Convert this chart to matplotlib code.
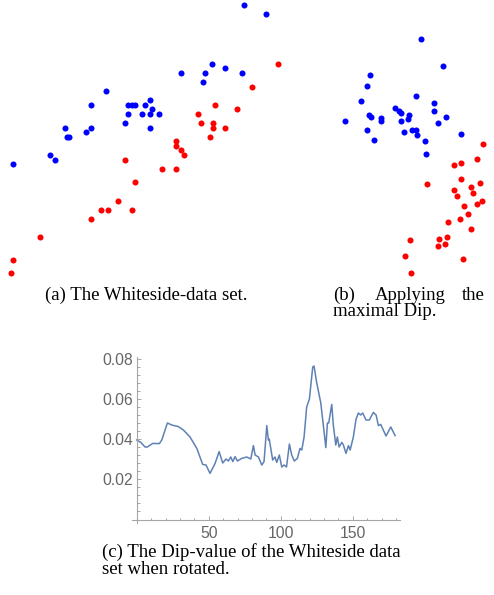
import matplotlib
matplotlib.use("Agg")
import matplotlib.pyplot as plt
from matplotlib.ticker import FixedLocator

# (a) Whiteside data, two groups (arbitrary picture units, y up)
a_blue_x = [244.3, 266, 212.3, 181.3, 205.3, 225, 241.7, 203, 105.7, 91.3, 127.7, 132.3, 134.7, 144.7, 149.7,
            152, 127.7, 142.3, 149.7, 159.3, 125, 64.7, 91.3, 149.7, 67, 69.3, 86.3, 50, 54.7, 13.3]
a_blue_y = [275, 266, 216, 207, 207, 211.7, 207, 197.7, 188.7, 175, 175, 175, 175, 175, 179.7,
            170.7, 166, 166, 166, 166, 157, 152.3, 152.3, 152.3, 143.3, 143.3, 148, 125, 120.3, 116]
a_red_x = [278.3, 251.7, 215, 237, 198.3, 200.7, 212.7, 212.7, 225, 210.3, 176.3, 176.3, 181.3, 183.7, 125,
           161.7, 176.3, 134.7, 118, 101, 108.3, 132.3, 91.3, 40.3, 13.3, 11]
a_red_y = [216, 193, 175, 170.7, 166, 157, 157, 152.3, 152.3, 143.3, 139, 134, 129.7, 125, 120.3,
           111.3, 111.3, 98, 79.3, 70.3, 70.3, 70.3, 61.3, 43, 20.3, 6.7]

# (b) same data after applying the maximal dip rotation
b_blue_x = [91, 113, 40, 37.3, 31.3, 85.7, 104, 104, 65, 68.7, 70.7, 78.7, 77.7, 38.7, 40.7,
            51.3, 50.7, 70.7, 115.7, 107.7, 15, 37, 43.7, 74.3, 81.7, 86.3, 87.3, 94.7, 131.3, 95.7]
b_blue_y = [241, 214.3, 204.7, 194.3, 179, 183.7, 177, 168.7, 172, 169, 167, 164.7, 161, 164.7, 162.7,
            162.3, 159, 159, 163, 157, 159.3, 149.7, 140, 147.7, 150, 150.3, 145.3, 139.3, 146, 126.3]
b_red_x = [153.3, 147, 123.7, 131, 97, 131, 150.3, 140.7, 124.3, 143, 127, 152.3, 147, 133.7, 138,
           130, 118.3, 141, 116.7, 109.3, 80.3, 115, 107.7, 74.7, 133.3, 81]
b_red_y = [136, 120.7, 115.3, 117.3, 96.3, 100.7, 97.3, 93.3, 90.3, 86.7, 84, 79, 75.7, 74.3, 66.3,
           60.7, 58, 51.3, 43, 40.7, 40, 36.3, 33.7, 24.3, 21.3, 6.7]

# (c) dip value vs rotation angle
angle = [0, 2.8, 5.8, 7.4, 11.1, 15.7, 17.4, 21.3, 24.3, 28.9, 32.4, 37, 41.7, 45.8, 48.1, 50.9, 54.4,
         57.2, 59.7, 62, 63.6, 65.3, 66.7, 68.3, 69.9, 72.9, 76.4, 79.2, 81, 82.2, 84.5, 86.8, 88.4,
         90.3, 91.4, 92, 94.4, 96, 97.2, 99, 100.7, 102.3, 104, 106, 107.6, 109.4, 111.5, 113.4, 114.6,
         116.2, 118, 119.9, 122.2, 123.1, 125, 127.8, 129.7, 131.3, 132.4, 133.3, 135.4, 136.5, 138.2,
         139.3, 140.5, 142.4, 143.5, 145.3, 147, 148.2, 150.4, 152.3, 153.9, 155.5, 156.9, 159.2,
         161.5, 164.3, 166.2, 167.8, 169.4, 173.1, 176.4, 179.4]
dip = [0.0395, 0.0383, 0.036, 0.036, 0.0378, 0.0377, 0.0395, 0.048, 0.047, 0.0462, 0.0445, 0.041, 0.0353,
       0.0273, 0.027, 0.0228, 0.0278, 0.0337, 0.028, 0.030, 0.029, 0.031, 0.0287, 0.0312, 0.029, 0.0303,
       0.031, 0.030, 0.0367, 0.032, 0.031, 0.027, 0.0287, 0.0467, 0.0395, 0.040, 0.0295, 0.031, 0.0283,
       0.032, 0.026, 0.027, 0.026, 0.0375, 0.032, 0.029, 0.0303, 0.0353, 0.0345, 0.041, 0.056, 0.060,
       0.076, 0.0765, 0.068, 0.058, 0.046, 0.0357, 0.048, 0.048, 0.0573, 0.047, 0.037, 0.041, 0.036,
       0.0383, 0.037, 0.0328, 0.0367, 0.0345, 0.041, 0.050, 0.053, 0.052, 0.053, 0.0495, 0.0495, 0.0533,
       0.052, 0.0467, 0.0473, 0.0415, 0.046, 0.0417]

W, H = 494, 595
fig = plt.figure(figsize=(W / 100, H / 100), dpi=100)

dot = 19
# panel (a)
ax_a = fig.add_axes([0, 1 - 280 / H, 300 / W, 280 / H])
ax_a.scatter(a_blue_x, a_blue_y, s=dot, color='#0000ff', linewidths=0, clip_on=False)
ax_a.scatter(a_red_x, a_red_y, s=dot, color='#ff0000', linewidths=0, clip_on=False)
ax_a.set_xlim(0, 300)
ax_a.set_ylim(0, 280)
ax_a.axis('off')

# panel (b)
ax_b = fig.add_axes([330 / W, 1 - 280 / H, 164 / W, 280 / H])
ax_b.scatter(b_blue_x, b_blue_y, s=dot, color='#0000ff', linewidths=0, clip_on=False)
ax_b.scatter(b_red_x, b_red_y, s=dot, color='#ff0000', linewidths=0, clip_on=False)
ax_b.set_xlim(0, 164)
ax_b.set_ylim(0, 280)
ax_b.axis('off')

# panel (c)
axis_col = '#a6a6a6'
lab_col = '#666666'
ax_c = fig.add_axes([131.7 / W, 1 - 523.3 / H, 268.3 / W, 166.3 / H])
ax_c.plot(angle, dip, color='#5e81b5', lw=1.1)
ax_c.set_xlim(-3.5, 182.8)
ax_c.set_ylim(-0.00215, 0.081)
for s in ['top', 'right']:
    ax_c.spines[s].set_visible(False)
ax_c.spines['left'].set_position(('data', 0))
ax_c.spines['bottom'].set_position(('data', -0.0005))
for s in ['left', 'bottom']:
    ax_c.spines[s].set_color(axis_col)
    ax_c.spines[s].set_linewidth(0.8)
ax_c.set_xticks([50, 100, 150])
ax_c.xaxis.set_minor_locator(FixedLocator([v for v in range(10, 190, 10) if v % 50]))
ax_c.set_yticks([0.02, 0.04, 0.06, 0.08])
ax_c.set_yticklabels(['0.02', '0.04', '0.06', '0.08'])
ax_c.yaxis.set_minor_locator(FixedLocator([k * 0.004 for k in range(1, 21) if k % 5]))
ax_c.tick_params(which='both', direction='in', color=axis_col, labelcolor=lab_col,
                 labelsize=11.3, width=0.7, pad=2.5)
ax_c.tick_params(axis='x', which='major', pad=4)
ax_c.tick_params(which='major', length=3)
ax_c.tick_params(which='minor', length=1.8)
for t in ax_c.get_xticklabels() + ax_c.get_yticklabels():
    t.set_fontfamily('Liberation Sans')

# captions
cap = dict(family='Liberation Serif', fontsize=13.5, color='black', va='baseline')


def put(x, y, s, ha='left'):
    fig.text(x / W, 1 - y / H, s, ha=ha, **cap)


put(45, 299.5, '(a) The Whiteside-data set.')
put(333, 299.5, '(b)')
put(410, 299.5, 'Applying', ha='center')
put(485, 299.5, 'the', ha='right')
put(333, 316.5, 'maximal Dip.')
put(101.7, 557, '(c) The Dip-value of the Whiteside data')
put(101.7, 574, 'set when rotated.')

fig.savefig('out.png', dpi=100)
